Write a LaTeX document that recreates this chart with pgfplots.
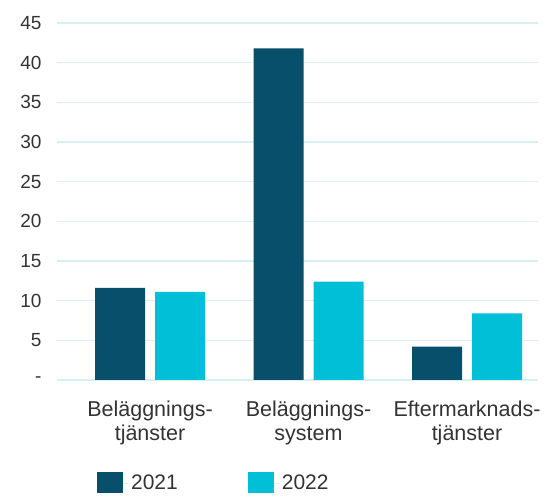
\documentclass[border=0pt]{standalone}
\usepackage{pgfplots}
\pgfplotsset{compat=1.18}
\usepackage{fontspec}
\setmainfont{Liberation Sans}
\definecolor{darkbar}{HTML}{074F6A}
\definecolor{cyanbar}{HTML}{00BFD6}
\definecolor{gridc}{HTML}{DAEFF4}
\definecolor{txt}{HTML}{333333}
\begin{document}
\begin{tikzpicture}
\begin{axis}[
    scale only axis,
    width=481pt, height=357pt,
    xmin=-0.587, xmax=2.448,
    ymin=0, ymax=45,
    ybar=10pt, bar width=50pt,
    axis line style={draw=none},
    major tick length=0pt,
    ymajorgrids,
    grid style={color=gridc, line width=1.3pt},
    ytick={0,5,...,45},
    yticklabels={-,5,10,15,20,25,30,35,40,45},
    yticklabel style={font=\fontsize{19}{22}\selectfont, text=txt, xshift=-12pt},
    xtick={0,1,2},
    xticklabels={{Beläggnings-\\tjänster},{Beläggnings-\\system},{Eftermarknads-\\tjänster}},
    xticklabel style={font=\fontsize{21.5}{24}\selectfont, text=txt, align=center, yshift=-17pt},
    legend columns=2,
    legend style={draw=none, at={(0.083,-0.258)}, anchor=north west, inner sep=0pt,
        font=\fontsize{21}{23}\selectfont, text=txt,
        /tikz/every even column/.append style={column sep=68pt}},
    legend image code/.code={\fill[#1] (0pt,-10pt) rectangle (26pt,11pt); \path (0pt,0pt) -- (32pt,0pt);},
]
\addplot[fill=darkbar, draw=none] coordinates {(0,11.6) (1,41.8) (2,4.2)};
\addlegendentry{2021}
\addplot[fill=cyanbar, draw=none] coordinates {(0,11.1) (1,12.4) (2,8.4)};
\addlegendentry{2022}
\end{axis}
\pgfresetboundingbox
\useasboundingbox (-57pt,-117pt) rectangle (502pt,380pt);
\end{tikzpicture}
\end{document}
